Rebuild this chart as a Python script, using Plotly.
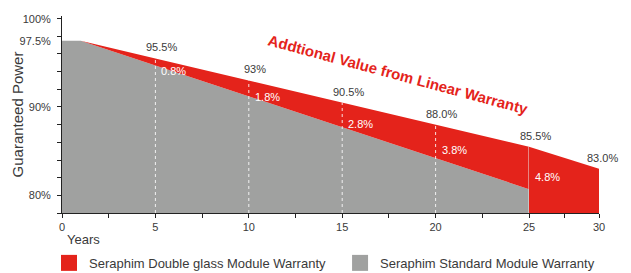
import plotly.graph_objects as go

# ---- data ----
years = [0, 1, 5, 10, 15, 20, 25]
double_glass = [97.5, 97.5, 95.5, 93.0, 90.5, 88.0, 85.5]
standard = [97.5, 97.5, 94.7, 91.2, 87.7, 84.2, 80.7]
tail_years = [25, 30]
tail_double = [85.5, 83.0]
label_years = [5, 10, 15, 20, 25]
value_labels = ["95.5%", "93%", "90.5%", "88.0%", "85.5%"]
tail_label = "83.0%"
gap_labels = ["0.8%", "1.8%", "2.8%", "3.8%", "4.8%"]
ytick_vals = [100, 97.5, 90, 80]
ytick_text = ["100%", "97.5%", "90%", "80%"]
xtick_vals = [0, 5, 10, 15, 20, 25]
series_names = ["Seraphim Double glass Module Warranty", "Seraphim Standard Module Warranty"]

RED = "rgb(228,35,27)"
GREY = "rgb(160,161,160)"
TXT = "#3a3a3a"
FONT = "Liberation Sans, Arial, sans-serif"

fig = go.Figure()

fig.add_trace(go.Scatter(x=years, y=standard, mode="lines", line=dict(width=0, color=GREY),
                         fill="tozeroy", fillcolor=GREY, showlegend=False, hoverinfo="skip"))
fig.add_trace(go.Scatter(x=years, y=double_glass, mode="lines", line=dict(width=0, color=RED),
                         fill="tonexty", fillcolor=RED, showlegend=False, hoverinfo="skip"))
fig.add_trace(go.Scatter(x=tail_years, y=tail_double, mode="lines", line=dict(width=0, color=RED),
                         fill="tozeroy", fillcolor=RED, showlegend=False, hoverinfo="skip",
                         xaxis="x2", yaxis="y"))

# legend-only traces
fig.add_trace(go.Scatter(x=[None], y=[None], mode="markers", name=series_names[0], legend="legend",
                         marker=dict(symbol="square", size=18, color=RED)))
fig.add_trace(go.Scatter(x=[None], y=[None], mode="markers", name=series_names[1], legend="legend2",
                         marker=dict(symbol="square", size=18, color=GREY)))

shapes = []
for yr in label_years:
    i = years.index(yr)
    shapes.append(dict(type="line", xref="x", yref="y", x0=yr, x1=yr, y0=78, y1=double_glass[i],
                       line=dict(color="rgba(255,255,255,0.85)" if yr != 25 else "rgba(235,235,235,1)",
                                 width=1, dash="dot" if yr != 25 else "solid"),
                       layer="above"))

annotations = []
for yr, txt in zip(label_years, value_labels):
    i = years.index(yr)
    annotations.append(dict(x=yr, y=double_glass[i], xref="x", yref="y", text=txt, showarrow=False,
                            xanchor="center", yanchor="bottom", xshift=6, yshift=3,
                            font=dict(family=FONT, size=11, color=TXT)))
annotations.append(dict(x=tail_years[-1], y=tail_double[-1], xref="x2", yref="y", text=tail_label,
                        showarrow=False, xanchor="center", yanchor="bottom", xshift=3, yshift=3,
                        font=dict(family=FONT, size=11, color=TXT)))
for yr, txt in zip(label_years, gap_labels):
    i = years.index(yr)
    mid = (double_glass[i] + standard[i]) / 2
    annotations.append(dict(x=yr, y=mid, xref="x", yref="y", text=txt, showarrow=False,
                            xanchor="left", yanchor="middle", xshift=4, yshift=-9,
                            font=dict(family=FONT, size=11, color="white")))

annotations.append(dict(x=18.0, y=93.7, xref="x", yref="y", text="<b>Addtional Value from Linear Warranty</b>",
                        showarrow=False, textangle=15, font=dict(family=FONT, size=15, color=RED)))
annotations.append(dict(x=-0.082, y=0.5, xref="paper", yref="paper", text="Guaranteed Power",
                        showarrow=False, textangle=-90, xanchor="center", yanchor="middle",
                        font=dict(family=FONT, size=15, color=TXT)))
annotations.append(dict(x=0.006, y=-0.135, xref="paper", yref="paper", text="Years",
                        showarrow=False, xanchor="left", yanchor="middle",
                        font=dict(family=FONT, size=13, color=TXT)))

split = 467 / 537

legend_common = dict(orientation="h", y=0.038, xanchor="left", yanchor="middle",
                     xref="container", yref="container",
                     font=dict(family=FONT, size=13, color=TXT),
                     itemsizing="trace", bgcolor="rgba(0,0,0,0)")

fig.update_layout(
    width=623, height=265,
    margin=dict(l=54, r=32, t=5, b=60),
    paper_bgcolor="white", plot_bgcolor="white",
    font=dict(family=FONT, color=TXT),
    shapes=shapes, annotations=annotations,
    showlegend=True,
    legend=dict(x=0.0658, **legend_common),
    legend2=dict(x=0.533, **legend_common),
    xaxis=dict(domain=[0, split], range=[0, 25], tickvals=xtick_vals, ticks="outside", ticklen=4,
               tickcolor="#222", showline=True, linecolor="#222", linewidth=1, showgrid=False,
               zeroline=False, tickfont=dict(size=11, color=TXT),
               minor=dict(tick0=2.5, dtick=5, ticks="outside", ticklen=4, tickcolor="#222")),
    xaxis2=dict(domain=[split, 1], range=[25, 30], tickvals=[30], ticks="outside", ticklen=4,
                tickcolor="#222", showline=True, linecolor="#222", linewidth=1, showgrid=False,
                zeroline=False, anchor="y", tickfont=dict(size=11, color=TXT),
                minor=dict(tickvals=[27.5], ticks="outside", ticklen=4, tickcolor="#222")),
    yaxis=dict(range=[78, 100.3], tickvals=ytick_vals, ticktext=ytick_text, ticks="outside", ticklen=0,
               showline=True, linecolor="#222", linewidth=1, showgrid=False, zeroline=False,
               tickfont=dict(size=11, color=TXT), ticklabelstandoff=8,
               minor=dict(tick0=78, dtick=2, ticks="outside", ticklen=4, tickcolor="#222")),
)

fig.write_html("out.html")
